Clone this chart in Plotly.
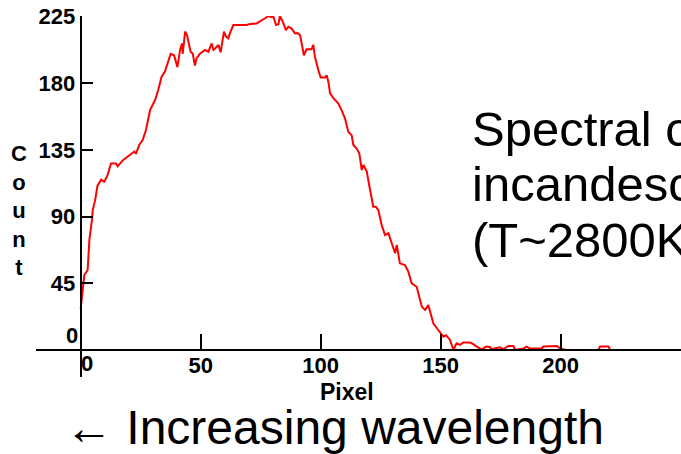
import plotly.graph_objects as go

# ---- data ----
pixel = [
    0, 0.8, 1.5, 2.9, 3.6, 4.7, 5.0, 6.0, 7.0, 8.5,
    9.8, 11.2, 12.6, 14.7, 15.4, 17.5, 20.2, 22.3, 23.0, 24.4,
    25.8, 27.2, 28.9, 31.0, 32.3, 33.7, 35.1, 36.5, 37.5, 38.9,
    40.3, 41.4, 42.2, 42.5, 43.5, 44.3, 45.2, 45.8, 46.7, 47.6,
    48.3, 49.7, 51.8, 53.2, 54.6, 55.3, 56.7, 57.4, 58.3, 59.2,
    59.7, 60.5, 61.5, 62.2, 63.6, 69.2, 70.0, 73.3, 74.7, 76.8,
    78.2, 79.6, 80.3, 81.4, 82.4, 83.0, 84.2, 85.5, 86.5, 87.9,
    89.3, 90.3, 91.4, 92.0, 93.0, 94.1, 96.2, 96.9, 97.6, 99.0,
    100.0, 101.8, 102.5, 103.2, 103.9, 105.3, 107.3, 108.7, 110.1, 111.5,
    112.9, 113.6, 115.0, 116.1, 117.1, 117.8, 119.2, 120.2, 121.9, 123.0,
    124.0, 125.4, 126.8, 128.2, 129.6, 131.0, 131.7, 133.0, 135.1, 136.5,
    137.9, 140.0, 141.4, 142.1, 143.5, 144.8, 145.8, 146.9, 149.0, 151.1,
    152.2, 153.9, 155.3, 156.6, 158.0, 159.4, 162.2, 163.6, 165.0, 167.0,
    169.0, 170.5, 171.0, 174.7, 176.0, 178.2, 180.3, 181.0, 184.5, 185.8,
    187.2, 192.1, 192.8, 197.0, 198.4, 199.7, 202.5, 215.7, 216.4, 219.9,
    220.6, 250.0,
]
count = [
    28, 38.5, 50.6, 54, 74, 88, 94.5, 101, 111, 115,
    113.6, 118, 126, 126, 124, 128, 131.7, 134, 132.5, 138.4,
    141.8, 148.5, 162, 168.8, 175.5, 184.5, 188, 195.8, 200, 199,
    191, 202.6, 207, 200, 215, 212.5, 207, 201.4, 200, 192,
    197, 200, 202.6, 201.4, 207, 202.6, 204.8, 206, 201, 209,
    215, 211.7, 210.5, 214, 219.4, 219.4, 220, 220.5, 221.7, 224,
    225.5, 224.7, 225, 219.4, 220, 225.5, 221.7, 216, 218.3, 217,
    213.7, 214, 212.7, 207, 199, 203, 203, 206, 198, 189,
    184, 184, 185.5, 181, 173.3, 170, 166.5, 162, 156.4, 147.4,
    145, 138.4, 136, 132.7, 121.5, 125, 120.4, 111.4, 96.8, 96.8,
    94.5, 84.4, 77.6, 78.8, 72, 65.3, 70.9, 58.5, 57.4, 52.9,
    45, 42.7, 33.8, 29.3, 27, 30.4, 24.8, 18, 13.5, 9,
    10, 6.8, 0, 4.5, 3.4, 5, 5, 4, 2.3, 0.5,
    2.3, 2, 0.5, 1.8, 0.5, 2.7, 2.7, 0, 1, 2.3,
    1, 1, 2.3, 2.3, 2.7, 1, 0, 0, 2.3, 2.3,
    0, 0,
]
x_ticks = [50, 100, 150, 200]
y_ticks = [45, 90, 135, 180, 225]
x_title = "Pixel"
y_title = "Count"
caption_lines = ["Spectral output of", "incandescent lamp", "(T~2800K)"]
bottom_caption = "\u2190 Increasing wavelength"

W, H = 681, 454


def px(x):
    return x / W


def py(y):
    return 1 - y / H


X0 = 80.7      # pixel column of x=0
SX = 2.4       # px per unit
Y0 = 350.0     # pixel row of y=0
SY = 1.481     # px per unit

fig = go.Figure()
fig.add_trace(go.Scatter(x=pixel, y=count, mode="lines",
                         line=dict(color="#ff0000", width=2),
                         showlegend=False, hoverinfo="skip"))

tickfont = dict(family="Liberation Sans", size=22, color="black", weight="bold")

fig.update_layout(
    width=W, height=H,
    margin=dict(l=0, r=0, t=0, b=0),
    paper_bgcolor="white", plot_bgcolor="white",
    xaxis=dict(
        domain=[px(36), 1],
        range=[(36 - X0) / SX, (W - X0) / SX],
        anchor="free", position=py(Y0),
        showline=True, linecolor="black", linewidth=2,
        ticks="inside", ticklen=15, tickwidth=2, tickcolor="black",
        tickvals=x_ticks, tickfont=tickfont, ticklabelstandoff=-4,
        showgrid=False, zeroline=False, automargin=False,
    ),
    yaxis=dict(
        domain=[py(377), py(16)],
        range=[(Y0 - 377) / SY, (Y0 - 16) / SY],
        anchor="free", position=px(X0),
        showline=True, linecolor="black", linewidth=2,
        ticks="inside", ticklen=11, tickwidth=2, tickcolor="black",
        tickvals=y_ticks, tickfont=tickfont,
        showgrid=False, zeroline=False, automargin=False,
    ),
)

ann = []
# zero labels (offset as in the original)
ann.append(dict(text="0", x=px(72), y=py(335), xanchor="center", yanchor="middle",
                font=tickfont))
ann.append(dict(text="0", x=px(87), y=py(363), xanchor="center", yanchor="middle",
                font=tickfont))
ann.append(dict(text=x_title, x=px(347), y=py(392), xanchor="center", yanchor="middle",
                font=dict(family="Liberation Sans", size=23, color="black", weight="bold")))
ann.append(dict(text="<br>".join(list(y_title)), x=px(19), y=py(210),
                xanchor="center", yanchor="middle",
                font=dict(family="Liberation Sans", size=22, color="black", weight="bold")))
for i, (line, cy) in enumerate(zip(caption_lines, [129, 184, 240])):
    ann.append(dict(text=line, x=px(470), y=py(cy), xanchor="left", yanchor="middle",
                    font=dict(family="Liberation Sans", size=49, color="black")))
ann.append(dict(text=bottom_caption, x=px(63), y=py(427), xanchor="left", yanchor="middle",
                font=dict(family="Liberation Sans", size=48, color="black")))
for a in ann:
    a.update(xref="paper", yref="paper", showarrow=False)
fig.update_layout(annotations=ann)

fig.write_html("out.html", config={"responsive": False, "displayModeBar": False})
